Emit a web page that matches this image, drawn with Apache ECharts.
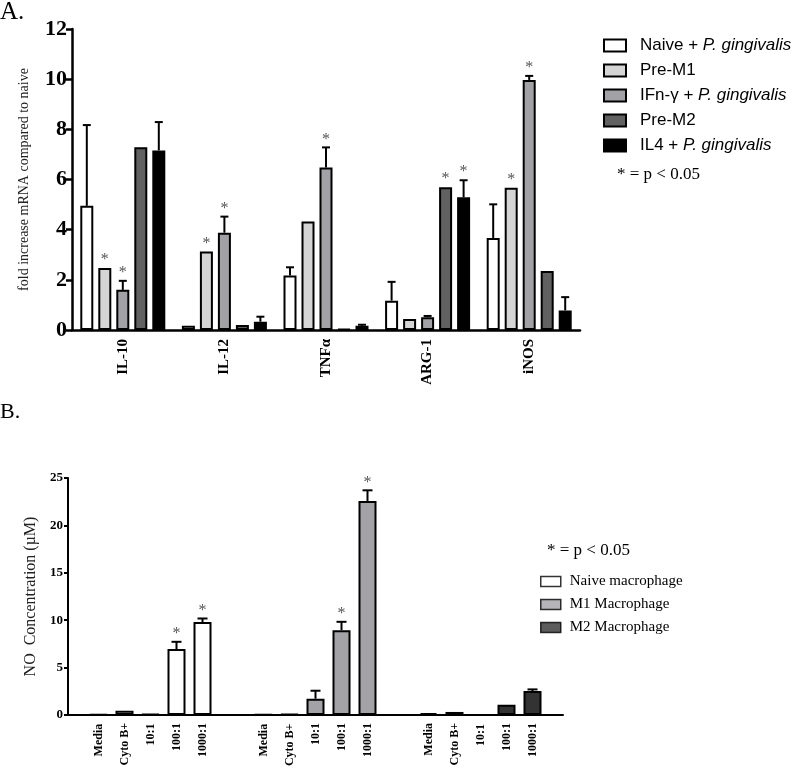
<!DOCTYPE html>
<html>
<head>
<meta charset="utf-8">
<script src="https://cdn.jsdelivr.net/npm/echarts@6/dist/echarts.min.js"></script>
<style>html,body{margin:0;padding:0;background:#fff}#c{width:797px;height:769px}</style>
</head>
<body>
<div id="c"></div>
<script>
// ---------- Panel A data ----------
const genesA = ['IL-10', 'IL-12', 'TNF\u03b1', 'ARG-1', 'iNOS'];
const seriesNamesA = ['Naive + P. gingivalis', 'Pre-M1', 'IFn-\u03b3 + P. gingivalis', 'Pre-M2', 'IL4 + P. gingivalis'];
const naivePg = [4.95, 0.17, 2.17, 1.17, 3.67];
const preM1 = [2.47, 3.13, 4.33, 0.44, 5.67];
const ifnPg = [1.60, 3.88, 6.48, 0.51, 9.97];
const preM2 = [7.29, 0.20, 0.03, 5.69, 2.35];
const il4Pg = [7.16, 0.33, 0.17, 5.29, 0.78];
const naivePgErr = [3.22, 0.0, 0.33, 0.75, 1.34];
const preM1Err = [0, 0, 0, 0, 0];
const ifnPgErr = [0.36, 0.64, 0.80, 0.05, 0.16];
const preM2Err = [0, 0, 0, 0, 0];
const il4PgErr = [1.13, 0.20, 0.04, 0.68, 0.53];
const naivePgSig = [0, 0, 0, 0, 0];
const preM1Sig = [1, 1, 0, 0, 1];
const ifnPgSig = [1, 1, 1, 0, 1];
const preM2Sig = [0, 0, 0, 1, 0];
const il4PgSig = [0, 0, 0, 1, 0];
const yTicksA = [0, 2, 4, 6, 8, 10, 12];

// ---------- Panel B data ----------
const macrophages = ['Naive macrophage', 'M1 Macrophage', 'M2 Macrophage'];
const conditionsB = ['Media', 'Cyto B+', '10:1', '100:1', '1000:1'];
const naiveNO = [0.05, 0.45, 0.08, 6.95, 9.80];
const m1NO = [0.03, 0.08, 1.72, 8.95, 22.58];
const m2NO = [0.21, 0.32, 0.0, 1.09, 2.53];
const naiveNOErr = [0, 0, 0, 0.77, 0.38];
const m1NOErr = [0, 0, 0.84, 0.88, 1.12];
const m2NOErr = [0, 0, 0, 0, 0.17];
const naiveNOSig = [0, 0, 0, 1, 1];
const m1NOSig = [0, 0, 0, 1, 1];
const m2NOSig = [0, 0, 0, 0, 0];
const yTicksB = [0, 5, 10, 15, 20, 25];

// ---------- styling ----------
const SERIF = 'Liberation Serif';
const SANS = 'Liberation Sans';
const colorsA = ['#ffffff', '#d5d5d5', '#a2a2a6', '#616161', '#000000'];
const colorsB = ['#ffffff', '#a3a3a7', '#333333'];
const BAR_W_A = 13, GAP_A = 5;
const BAR_W_B = 18, GAP_B = 8;

const valsA = [naivePg, preM1, ifnPg, preM2, il4Pg];
const errsA = [naivePgErr, preM1Err, ifnPgErr, preM2Err, il4PgErr];
const sigsA = [naivePgSig, preM1Sig, ifnPgSig, preM2Sig, il4PgSig];
const valsB = [naiveNO, m1NO, m2NO];
const errsB = [naiveNOErr, m1NOErr, m2NOErr];
const sigsB = [naiveNOSig, m1NOSig, m2NOSig];

function errRenderer(nSeries, barW, gap, capW) {
  return function (params, api) {
    const cat = api.value(0), k = api.value(1), v = api.value(2), e = api.value(3), s = api.value(4);
    const base = api.coord([cat, v]);
    const x = base[0] + (k - (nSeries - 1) / 2) * (barW + gap);
    const topY = api.coord([cat, v + e])[1];
    const children = [];
    if (e > 0) {
      children.push({type: 'line', shape: {x1: x, y1: base[1], x2: x, y2: topY}, style: {stroke: '#000', lineWidth: 2}});
      children.push({type: 'line', shape: {x1: x - capW / 2, y1: topY, x2: x + capW / 2, y2: topY}, style: {stroke: '#000', lineWidth: 2}});
    }
    if (s) {
      children.push({type: 'text', style: {text: '*', x: x, y: topY, textAlign: 'center', textVerticalAlign: 'bottom', font: '16px "' + SERIF + '"', fill: '#555'}});
    }
    return {type: 'group', children: children};
  };
}

const errDataA = [];
valsA.forEach((arr, k) => arr.forEach((v, c) => errDataA.push([c, k, v, errsA[k][c], sigsA[k][c]])));
const errDataB = [];
valsB.forEach((arr, g) => arr.forEach((v, k) => errDataB.push([g, k, v, errsB[g][k], sigsB[g][k]])));

const series = [];
seriesNamesA.forEach((name, k) => {
  series.push({
    name: name, type: 'bar', xAxisIndex: 0, yAxisIndex: 0,
    data: valsA[k], barWidth: BAR_W_A, barGap: (GAP_A / BAR_W_A * 100) + '%',
    itemStyle: {color: colorsA[k], borderColor: '#000', borderWidth: 2},
    emphasis: {disabled: true}
  });
});
series.push({
  type: 'custom', name: 'errA', xAxisIndex: 0, yAxisIndex: 0, z: 5,
  renderItem: errRenderer(5, BAR_W_A, GAP_A, 8), data: errDataA,
  encode: {x: 0, y: 2}
});
conditionsB.forEach((cond, k) => {
  series.push({
    name: cond, type: 'bar', xAxisIndex: 1, yAxisIndex: 1,
    data: valsB.map((arr, g) => ({value: arr[k], itemStyle: {color: colorsB[g]}})),
    barWidth: BAR_W_B, barGap: (GAP_B / BAR_W_B * 100) + '%',
    itemStyle: {borderColor: '#000', borderWidth: 2},
    label: {
      show: true, position: 'bottom', distance: 8, rotate: 90,
      align: 'right', verticalAlign: 'middle',
      formatter: cond, fontFamily: SERIF, fontWeight: 'bold', fontSize: 12, color: '#000'
    },
    emphasis: {disabled: true}
  });
});
series.push({
  type: 'custom', name: 'errB', xAxisIndex: 1, yAxisIndex: 1, z: 5,
  renderItem: errRenderer(5, BAR_W_B, GAP_B, 10), data: errDataB,
  encode: {x: 0, y: 2}
});
macrophages.forEach((m, g) => {
  series.push({
    name: m, type: 'scatter', xAxisIndex: 1, yAxisIndex: 1, data: [],
    itemStyle: {color: colorsB[g], borderColor: '#000', borderWidth: 1.5}
  });
});

const chart = echarts.init(document.getElementById('c'), null, {renderer: 'canvas'});
chart.setOption({
  animation: false,
  backgroundColor: '#fff',
  title: [
    {text: 'A.', left: 0, top: 0, padding: 0, textStyle: {fontFamily: SERIF, fontWeight: 'normal', fontSize: 25, color: '#000'}},
    {text: 'B.', left: 0, top: 401, padding: 0, textStyle: {fontFamily: SERIF, fontWeight: 'normal', fontSize: 22, color: '#000'}},
    {text: '* = p < 0.05', left: 617, top: 166, padding: 0, textStyle: {fontFamily: SERIF, fontWeight: 'normal', fontSize: 17, color: '#000'}},
    {text: '* = p < 0.05', left: 547, top: 542, padding: 0, textStyle: {fontFamily: SERIF, fontWeight: 'normal', fontSize: 17, color: '#000'}}
  ],
  legend: [
    {
      data: seriesNamesA, orient: 'vertical', left: 603, top: 37, padding: 0,
      itemWidth: 22, itemHeight: 12, itemGap: 8, icon: 'rect',
      selectedMode: false,
      itemStyle: {borderColor: '#000', borderWidth: 2},
      formatter: name => name.replace('P. gingivalis', '{i|P. gingivalis}'),
      textStyle: {fontFamily: SANS, fontSize: 17, color: '#000', padding: [0, 0, 0, 9],
        rich: {i: {fontFamily: SANS, fontSize: 17, fontStyle: 'italic', color: '#000'}}}
    },
    {
      data: macrophages, orient: 'vertical', left: 540, top: 574, padding: 0,
      itemWidth: 20, itemHeight: 10, itemGap: 8, icon: 'rect',
      selectedMode: false,
      itemStyle: {borderColor: '#000', borderWidth: 1.5},
      textStyle: {fontFamily: SERIF, fontSize: 15, color: '#000', padding: [0, 0, 0, 4]}
    }
  ],
  grid: [
    {left: 72, top: 29, width: 508, height: 301, containLabel: false},
    {left: 68, top: 478, width: 495, height: 237, containLabel: false}
  ],
  xAxis: [
    {
      type: 'category', gridIndex: 0, data: genesA,
      axisLine: {lineStyle: {color: '#000', width: 2.5}},
      axisTick: {alignWithLabel: true, length: 6, lineStyle: {color: '#000', width: 2}},
      axisLabel: {rotate: 90, margin: 9, fontFamily: SERIF, fontWeight: 'bold', fontSize: 15, color: '#000'}
    },
    {
      type: 'category', gridIndex: 1, data: macrophages,
      axisLine: {lineStyle: {color: '#000', width: 2}},
      axisTick: {show: false},
      axisLabel: {show: false}
    }
  ],
  yAxis: [
    {
      type: 'value', gridIndex: 0, min: yTicksA[0], max: yTicksA[yTicksA.length - 1], interval: 2,
      name: 'fold increase mRNA compared to naive', nameLocation: 'middle', nameGap: 41,
      nameTextStyle: {fontFamily: SERIF, fontSize: 14, color: '#222'},
      axisLine: {show: true, lineStyle: {color: '#000', width: 2.5}},
      axisTick: {show: true, length: 6, lineStyle: {color: '#000', width: 2.5}},
      axisLabel: {margin: 5, fontFamily: SERIF, fontWeight: 'bold', fontSize: 22, color: '#000'},
      splitLine: {show: false}
    },
    {
      type: 'value', gridIndex: 1, min: yTicksB[0], max: yTicksB[yTicksB.length - 1], interval: 5,
      name: 'NO  Concentration (\u00b5M)', nameLocation: 'middle', nameGap: 27,
      nameTextStyle: {fontFamily: SERIF, fontSize: 16, color: '#222'},
      axisLine: {show: true, lineStyle: {color: '#000', width: 2}},
      axisTick: {show: true, length: 4, lineStyle: {color: '#000', width: 2}},
      axisLabel: {margin: 5, fontFamily: SERIF, fontWeight: 'bold', fontSize: 13, color: '#000'},
      splitLine: {show: false}
    }
  ],
  series: series
});
</script>
</body>
</html>
